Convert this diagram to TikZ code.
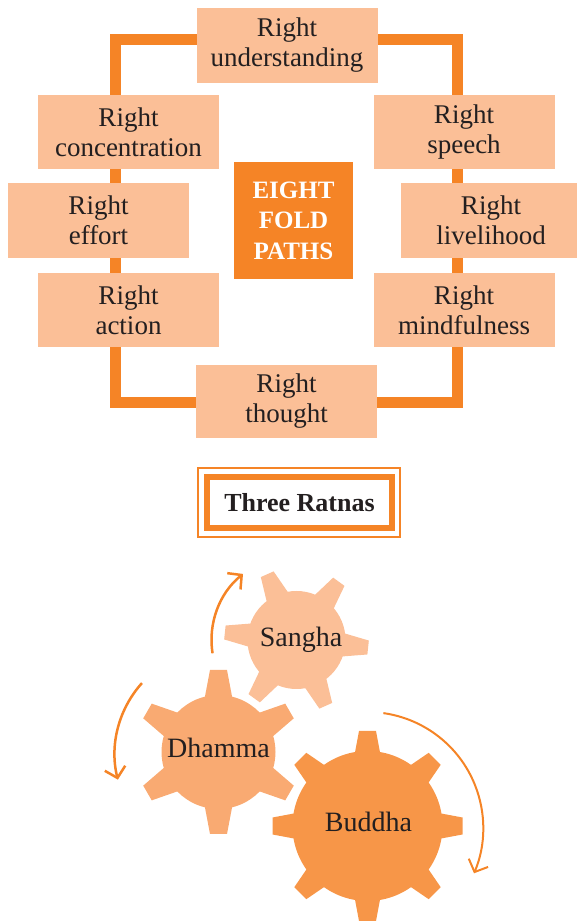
\documentclass[tikz,border=0pt]{standalone}
\usepackage{fontspec}
\setmainfont{Liberation Serif}
\usetikzlibrary{calc,arrows.meta}

\definecolor{pathorange}{RGB}{245,132,38}
\definecolor{peach}{RGB}{251,191,151}
\definecolor{dhammapeach}{RGB}{249,170,114}
\definecolor{buddhaorange}{RGB}{247,150,72}
\definecolor{ink}{RGB}{35,31,32}

\tikzset{
  pathbox/.style={fill=peach, minimum width=181pt, minimum height=74pt, inner sep=0pt,
    align=center, text=ink, font=\fontsize{27}{30}\selectfont},
  centrebox/.style={fill=pathorange, minimum width=119pt, minimum height=117pt, inner sep=0pt,
    align=center, text=white, font=\bfseries\fontsize{25}{30.5}\selectfont},
  geartext/.style={text=ink, font=\fontsize{28}{30}\selectfont},
  turnarrow/.style={draw=pathorange, line width=2.5pt, -{Straight Barb[length=10pt,width=21pt]}}
}

% gear: centre, teeth, first angle, body radius, tip radius, tip half width, base half width, colour
\newcommand{\drawgear}[8]{%
  \fill[#8] (#1) circle[radius=#4];
  \foreach \k in {1,...,#2}{
    \pgfmathsetmacro{\ang}{#3+360/#2*\k}
    \pgfmathsetmacro{\rb}{#4-4}
    \fill[#8] ($(#1)+(\ang:\rb)+(\ang+90:#7)$) -- ($(#1)+(\ang:#5)+(\ang+90:#6)$)
      -- ($(#1)+(\ang:#5)+(\ang-90:#6)$) -- ($(#1)+(\ang:\rb)+(\ang-90:#7)$) -- cycle;
  }
}

\begin{document}
\begin{tikzpicture}[x=1pt, y=1pt]
  \useasboundingbox (0,0) rectangle (577,922);

  % eight fold paths
  \draw[pathorange, line width=11pt] (115.5,519) rectangle (457.5,882.5);
  \node[pathbox, minimum height=75pt] (und) at (287,876.5) {Right\\understanding};
  \node[pathbox] (conc) at (128.5,789.5) {Right\\concentration};
  \node[pathbox] (speech) at (464,789.5) {Right\\speech};
  \node[pathbox, minimum height=75pt] (effort) at (98.5,701.5) {Right\\effort};
  \node[pathbox, minimum height=75pt] (live) at (491,701.5) {Right\\livelihood};
  \node[pathbox] (action) at (128.5,612) {Right\\action};
  \node[pathbox] (mind) at (464,612) {Right\\mindfulness};
  \node[pathbox, minimum height=73pt] (thought) at (286.5,520.5) {Right\\thought};
  \node[centrebox] (eight) at (293.5,701.5) {EIGHT\\FOLD\\PATHS};

  % three ratnas
  \node[draw=pathorange, line width=6pt, outer sep=0pt, minimum width=185pt, minimum height=51pt,
    text=ink, font=\bfseries\fontsize{26}{30}\selectfont] (ratnas) at (299.5,419.5) {Three Ratnas};
  \draw[pathorange, line width=2.5pt] ($(ratnas.south west)+(-9,-9)$) rectangle ($(ratnas.north east)+(8,9)$);

  \coordinate (sangha) at (296.5,282);
  \coordinate (dhamma) at (218.5,170);
  \coordinate (buddha) at (367.5,96);
  \drawgear{sangha}{6}{-6}{49}{72}{7}{12}{peach}
  \drawgear{dhamma}{6}{30}{57}{82}{8.5}{14}{dhammapeach}
  \drawgear{buddha}{8}{0}{75}{95}{8.5}{13}{buddhaorange}
  \node[geartext] (sanghatext) at (301,282) {Sangha};
  \node[geartext] (dhammatext) at (218.5,174) {Dhamma};
  \node[geartext] (buddhatext) at (368.5,100) {Buddha};

  \draw[turnarrow] ($(sangha)+(189:85)$) arc[start angle=189, end angle=129, radius=85];
  \draw[turnarrow] ($(dhamma)+(138:103)$) arc[start angle=138, end angle=194, radius=106];
  \draw[turnarrow, line width=2pt] ($(buddha)+(82:114)$) arc[start angle=82, end angle=-23, radius=116];
\end{tikzpicture}
\end{document}
